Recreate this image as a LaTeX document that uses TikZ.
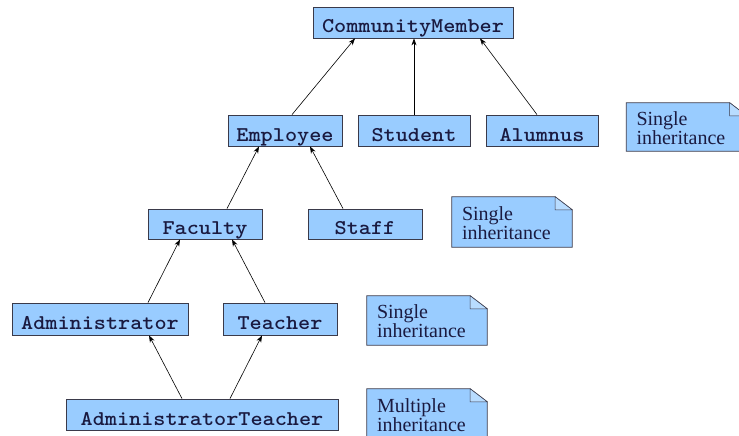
\documentclass[tikz,border=0pt]{standalone}
\usepackage{fontspec}
\setmainfont{Liberation Serif}
\usetikzlibrary{arrows.meta,calc}
\definecolor{boxfill}{HTML}{99CCFF}
\definecolor{boxline}{HTML}{3A3A4A}
\definecolor{boxtext}{HTML}{1A1A40}
\definecolor{foldfill}{HTML}{B8DCFF}
\newcommand{\cn}[1]{\scalebox{1.1}[1]{#1}}
\tikzset{
  cls/.style={draw=boxline, fill=boxfill, line width=0.8pt, minimum height=31pt,
    inner sep=0pt, text height=22pt, text depth=1pt, text=boxtext,
    font=\fontsize{21}{24}\selectfont\ttfamily\bfseries},
  notebox/.style={minimum width=120pt, minimum height=50pt, inner sep=0pt,
    text width=100pt, align=left, text=boxtext,
    font=\fontsize{20}{16}\selectfont},
  inh/.style={-{Stealth[length=7pt,width=5pt]}, line width=0.6pt, black},
}
\newcommand{\drawnote}[1]{%
  \fill[boxfill] (#1.north west) -- ($(#1.north east)+(-17,0)$) -- ($(#1.north east)+(0,13)$) -- (#1.south east) -- (#1.south west) -- cycle;
  \draw[boxline, line width=0.8pt] ($(#1.north east)+(-17,0)$) -- (#1.north west) -- (#1.south west) -- (#1.south east) -- ($(#1.north east)+(0,13)$) -- cycle;
  \filldraw[fill=foldfill, draw=boxline, line width=0.5pt] ($(#1.north east)+(-17,0)$) -- ($(#1.north east)+(-17,13)$) -- ($(#1.north east)+(0,13)$) -- cycle;
}
\begin{document}
\begin{tikzpicture}[x=1pt, y=-1pt]
\clip (0,0) rectangle (739,436);
\fill[white] (0,0) rectangle (739,436);

\node[cls, minimum width=200pt] (cm) at (413,22.5) {\cn{CommunityMember}};
\node[cls, minimum width=114pt] (emp) at (285,130.5) {\cn{Employee}};
\node[cls, minimum width=112pt] (stu) at (414,130.5) {\cn{Student}};
\node[cls, minimum width=112pt] (alu) at (542,130.5) {\cn{Alumnus}};
\node[cls, minimum width=114pt, minimum height=30pt] (fac) at (205,224) {\cn{Faculty}};
\node[cls, minimum width=114pt, minimum height=30pt] (sta) at (365,224) {\cn{Staff}};
\node[cls, minimum width=176pt, minimum height=32pt] (adm) at (100,319) {\cn{Administrator}};
\node[cls, minimum width=114pt, minimum height=32pt] (tea) at (280,319) {\cn{Teacher}};
\node[cls, minimum width=272pt] (at) at (202,414.5) {\cn{AdministratorTeacher}};

\node[notebox, minimum height=48pt] (n1) at (686.5,127) {};
\drawnote{n1}
\node[notebox, minimum height=48pt] (n1t) at (686.5,128) {Single\\inheritance};
\node[notebox] (n2) at (512,222) {};
\drawnote{n2}
\node[notebox] (n2t) at (512,223) {Single\\inheritance};
\node[notebox, minimum height=49pt] (n3) at (427,320.5) {};
\drawnote{n3}
\node[notebox, minimum height=49pt] (n3t) at (427,321.5) {Single\\inheritance};
\node[notebox] (n4) at (427,414) {};
\drawnote{n4}
\node[notebox] (n4t) at (427,415) {Multiple\\inheritance};

\draw[inh] ([xshift=7]emp.north) -- ([xshift=-58]cm.south);
\draw[inh] (stu.north) -- ([xshift=1]cm.south);
\draw[inh] ([xshift=-5]alu.north) -- ([xshift=67]cm.south);
\draw[inh] ([xshift=22]fac.north) -- ([xshift=-26]emp.south);
\draw[inh] ([xshift=-22]sta.north) -- ([xshift=25]emp.south);
\draw[inh] ([xshift=48]adm.north) -- ([xshift=-25]fac.south);
\draw[inh] ([xshift=-15]tea.north) -- ([xshift=27]fac.south);
\draw[inh] ([xshift=-20]at.north) -- ([xshift=49]adm.south);
\draw[inh] ([xshift=28]at.north) -- ([xshift=-18]tea.south);
\end{tikzpicture}
\end{document}
